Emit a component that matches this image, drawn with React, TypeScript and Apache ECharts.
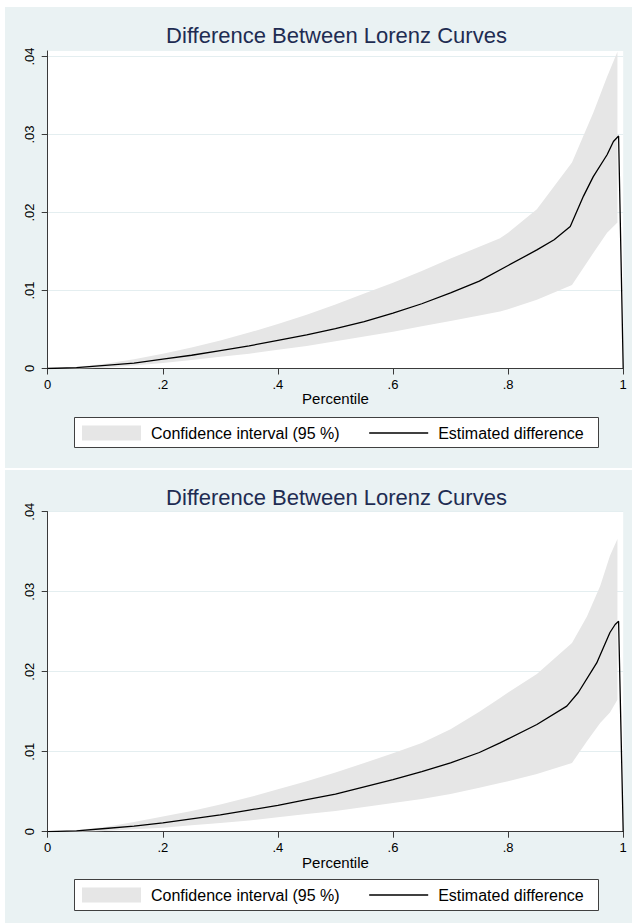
import React, { useEffect, useRef } from "react";
import * as echarts from "echarts";

// ---- data ----
const titleText = "Difference Between Lorenz Curves";
const xAxisTitle = "Percentile";
const ciName = "Confidence interval (95 %)";
const estName = "Estimated difference";

const xTicks = [0, 0.2, 0.4, 0.6, 0.8, 1];
const xTickLabels = ["0", ".2", ".4", ".6", ".8", "1"];
const yTicks = [0, 0.01, 0.02, 0.03, 0.04];
const yTickLabels = ["0", ".01", ".02", ".03", ".04"];

// top panel
const ciTopX = [0, 0.05, 0.1, 0.15, 0.2, 0.25, 0.3, 0.35, 0.4, 0.45, 0.5, 0.55, 0.6, 0.65, 0.7, 0.75, 0.786, 0.8, 0.85, 0.911, 0.948, 0.972, 0.99];
const ciTopLower = [0, 0, 0.0001, 0.0004, 0.0007, 0.0011, 0.0015, 0.0019, 0.0024, 0.0029, 0.0035, 0.0041, 0.0047, 0.0054, 0.0061, 0.0068, 0.0073, 0.0076, 0.0088, 0.0107, 0.0148, 0.0174, 0.0187];
const ciTopUpper = [0, 0.0002, 0.0006, 0.0012, 0.0019, 0.0027, 0.0036, 0.0046, 0.0057, 0.0069, 0.0082, 0.0096, 0.011, 0.0125, 0.0141, 0.0156, 0.0167, 0.0174, 0.0204, 0.0264, 0.0328, 0.0374, 0.0406];
const estTopX = [0, 0.05, 0.1, 0.15, 0.2, 0.25, 0.3, 0.35, 0.4, 0.45, 0.5, 0.55, 0.6, 0.65, 0.7, 0.75, 0.8, 0.85, 0.88, 0.908, 0.931, 0.948, 0.972, 0.983, 0.992, 1];
const estTopY = [0, 0.0001, 0.0004, 0.0007, 0.0012, 0.0017, 0.0023, 0.0029, 0.0036, 0.0043, 0.0051, 0.006, 0.0071, 0.0083, 0.0097, 0.0112, 0.0132, 0.0152, 0.0165, 0.0182, 0.0221, 0.0246, 0.0274, 0.0291, 0.0298, 0];
const yMaxTop = 0.0407;

// bottom panel
const ciBotX = [0, 0.05, 0.1, 0.15, 0.2, 0.25, 0.3, 0.35, 0.4, 0.45, 0.5, 0.55, 0.6, 0.65, 0.7, 0.75, 0.786, 0.8, 0.85, 0.911, 0.937, 0.96, 0.977, 0.99];
const ciBotLower = [0, 0, 0.0001, 0.0003, 0.0005, 0.0008, 0.0011, 0.0014, 0.0018, 0.0022, 0.0026, 0.0031, 0.0036, 0.0041, 0.0047, 0.0055, 0.0061, 0.0063, 0.0072, 0.0086, 0.0113, 0.0136, 0.0149, 0.0165];
const ciBotUpper = [0, 0.0002, 0.0006, 0.0012, 0.0019, 0.0026, 0.0034, 0.0043, 0.0053, 0.0063, 0.0074, 0.0086, 0.0098, 0.0111, 0.0128, 0.015, 0.0167, 0.0174, 0.0197, 0.0236, 0.0269, 0.0307, 0.0345, 0.0366];
const estBotX = [0, 0.05, 0.1, 0.15, 0.2, 0.25, 0.3, 0.35, 0.4, 0.45, 0.5, 0.55, 0.6, 0.65, 0.7, 0.75, 0.786, 0.8, 0.85, 0.902, 0.922, 0.954, 0.977, 0.986, 0.992, 1];
const estBotY = [0, 0.0001, 0.0004, 0.0007, 0.0011, 0.0016, 0.0021, 0.0027, 0.0033, 0.004, 0.0047, 0.0056, 0.0065, 0.0075, 0.0086, 0.0099, 0.0111, 0.0116, 0.0134, 0.0157, 0.0174, 0.0211, 0.0249, 0.0259, 0.0263, 0];
const yMaxBot = 0.04;

// ---- styling ----
const FONT = '"Liberation Sans", Arial, Helvetica, sans-serif';
const PANEL_BG = "#eaf2f3";
const GRID_LINE = "#e4eef0";
const BAND = "#e6e6e6";
const AXIS = "#3a3a3a";
const TITLE_COLOR = "#1e2c52";

const zip = (xs: number[], ys: number[]) => xs.map((x, i) => [x, ys[i]]);
const labelFor = (ticks: number[], labels: string[]) => (v: number) => {
  const i = ticks.findIndex((t) => Math.abs(t - v) < 1e-9);
  return i >= 0 ? labels[i] : "";
};

type Panel = {
  gridTop: number;
  gridHeight: number;
  yMax: number;
  titleY: number;
  legendTop: number;
  boxTop: number;
  boxHeight: number;
  ciX: number[];
  ciLower: number[];
  ciUpper: number[];
  estX: number[];
  estY: number[];
};

const panels: Panel[] = [
  { gridTop: 51, gridHeight: 317.5, yMax: yMaxTop, titleY: 35, legendTop: 425, boxTop: 417, boxHeight: 30,
    ciX: ciTopX, ciLower: ciTopLower, ciUpper: ciTopUpper, estX: estTopX, estY: estTopY },
  { gridTop: 511.7, gridHeight: 320, yMax: yMaxBot, titleY: 497, legendTop: 887, boxTop: 879, boxHeight: 31,
    ciX: ciBotX, ciLower: ciBotLower, ciUpper: ciBotUpper, estX: estBotX, estY: estBotY },
];

function buildOption() {
  const grid: any[] = [];
  const xAxis: any[] = [];
  const yAxis: any[] = [];
  const series: any[] = [];
  const legend: any[] = [];
  const graphic: any[] = [];

  panels.forEach((p, k) => {
    grid.push({
      left: 47.7, width: 575.5, top: p.gridTop, height: p.gridHeight,
      show: true, backgroundColor: "#ffffff", borderWidth: 0, containLabel: false,
    });
    xAxis.push({
      type: "value", gridIndex: k, min: 0, max: 1, interval: 0.2,
      axisLine: { show: true, onZero: false, lineStyle: { color: AXIS, width: 1 } },
      axisTick: { show: true, length: 6, lineStyle: { color: AXIS, width: 1 }, customValues: xTicks },
      axisLabel: { color: "#000", fontSize: 13, fontFamily: FONT, margin: 9, customValues: xTicks,
        formatter: labelFor(xTicks, xTickLabels) },
      splitLine: { show: false },
      name: xAxisTitle, nameLocation: "middle", nameGap: 21,
      nameTextStyle: { color: "#000", fontSize: 15, fontFamily: FONT },
    });
    yAxis.push({
      type: "value", gridIndex: k, min: 0, max: p.yMax, interval: 0.01,
      axisLine: { show: true, onZero: false, lineStyle: { color: AXIS, width: 1 } },
      axisTick: { show: true, length: 6, lineStyle: { color: AXIS, width: 1 }, customValues: yTicks },
      axisLabel: { color: "#000", fontSize: 13, fontFamily: FONT, rotate: 90, margin: 12, customValues: yTicks,
        formatter: labelFor(yTicks, yTickLabels) },
      splitLine: { show: true, lineStyle: { color: GRID_LINE, width: 1 } },
    });
    // confidence band: one polygon through upper edge then lower edge, placed with the axes' scales
    series.push({
      type: "custom", name: ciName, xAxisIndex: k, yAxisIndex: k, silent: true, z: 1,
      itemStyle: { color: BAND },
      data: p.ciX.map((x, i) => [x, p.ciLower[i], p.ciUpper[i]]),
      encode: { x: 0, y: [1, 2] },
      renderItem: (params: any, api: any) => {
        if (params.dataIndex !== 0) return null;
        const up = p.ciX.map((x, i) => api.coord([x, p.ciUpper[i]]));
        const lo = p.ciX.map((x, i) => api.coord([x, p.ciLower[i]])).reverse();
        return { type: "polygon", shape: { points: up.concat(lo) }, style: { fill: BAND, stroke: null }, silent: true };
      },
    });
    series.push({
      type: "line", name: estName, xAxisIndex: k, yAxisIndex: k,
      data: zip(p.estX, p.estY), symbol: "none", silent: true,
      lineStyle: { color: "#000", width: 1.3 }, itemStyle: { color: "#000" }, z: 3,
    });
    legend.push({
      left: 82, top: p.legendTop, orient: "horizontal", padding: 0,
      itemWidth: 59, itemHeight: 15, itemGap: 29, selectedMode: false, z: 10,
      textStyle: { color: "#000", fontSize: 16, fontFamily: FONT, padding: [0, 0, 0, 5] },
      data: [
        { name: ciName, icon: "rect", itemStyle: { color: BAND, borderWidth: 0 } },
        { name: estName, itemStyle: { opacity: 0 }, lineStyle: { color: "#000", width: 1.3 } },
      ],
    });
    graphic.push({
      type: "rect", z: 5, silent: true,
      shape: { x: 74.5, y: p.boxTop + 0.5, width: 524, height: p.boxHeight },
      style: { fill: "#ffffff", stroke: "#404040", lineWidth: 1 },
    });
    graphic.push({
      type: "text", z: 5, silent: true, x: 336.5, y: p.titleY,
      style: { text: titleText, fill: TITLE_COLOR, fontSize: 22, fontFamily: FONT, align: "center", verticalAlign: "middle" },
    });
  });

  return {
    animation: false,
    backgroundColor: "transparent",
    textStyle: { fontFamily: FONT },
    grid, xAxis, yAxis, series, legend, graphic,
  };
}

export default function App() {
  const ref = useRef<HTMLDivElement>(null);
  useEffect(() => {
    if (!ref.current) return;
    const chart = echarts.init(ref.current, null, { renderer: "svg" });
    chart.setOption(buildOption() as any);
    return () => chart.dispose();
  }, []);
  return (
    <div style={{ position: "fixed", left: 0, top: 0, width: 633, height: 924, background: "#fff" }}>
      <div style={{ position: "absolute", left: 5, top: 7, width: 627, height: 461, background: PANEL_BG }} />
      <div style={{ position: "absolute", left: 5, top: 470, width: 627, height: 453, background: PANEL_BG }} />
      <div ref={ref} style={{ position: "absolute", left: 0, top: 0, width: 633, height: 924 }} />
    </div>
  );
}
